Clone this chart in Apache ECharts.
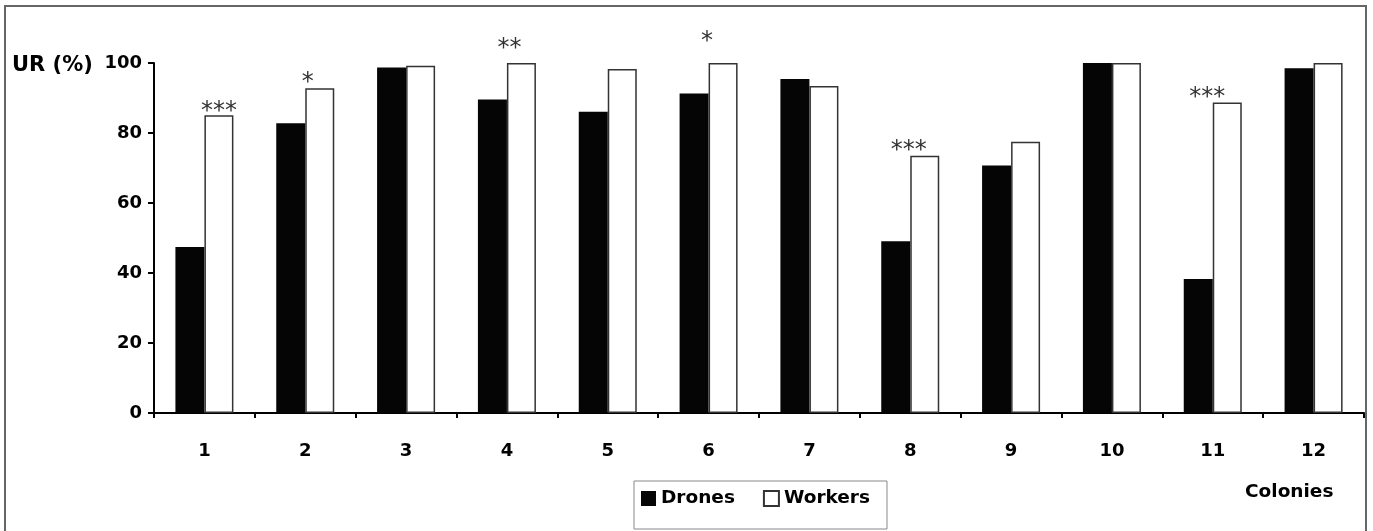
<!DOCTYPE html>
<html>
<head>
<meta charset="utf-8">
<script src="https://cdn.jsdelivr.net/npm/echarts@6/dist/echarts.min.js"></script>
<style>
html,body{margin:0;padding:0;background:#fff;}
#chart{width:1373px;height:531px;}
</style>
</head>
<body>
<div id="chart"></div>
<script>
// ---- data ----
const colonies = ['1','2','3','4','5','6','7','8','9','10','11','12'];
const drones  = [47.4, 82.8, 98.7, 89.6, 86.1, 91.3, 95.4, 49.1, 70.7, 100, 38.3, 98.5];
const workers = [85.1, 92.8, 99.2, 100, 98.3, 100, 93.4, 73.5, 77.5, 100, 88.7, 100];
const significance = ['***','*','','**','','*','','***','','','***',''];
const yTicks = [0, 20, 40, 60, 80, 100];
const yTitle = 'UR (%)';
const xTitle = 'Colonies';

// ---- styling (label placement per colony) ----
const sigOffsets = {0:[0,14], 1:[-12,12], 3:[-12,3], 5:[-16,-4], 7:[-16,12], 10:[-20,12]};

const FONT = 'DejaVu Sans';
const chart = echarts.init(document.getElementById('chart'), null, {renderer:'canvas'});

const workerData = workers.map((v, i) => ({
  value: v,
  label: {
    show: significance[i] !== '',
    formatter: significance[i],
    offset: sigOffsets[i] || [0, 0]
  }
}));

chart.setOption({
  animation: false,
  backgroundColor: '#fff',
  graphic: [
    {
      type: 'rect', silent: true, z: -10,
      shape: {x: 5, y: 6, width: 1361, height: 600},
      style: {fill: 'none', stroke: '#666', lineWidth: 2}
    },
    {
      type: 'text', left: 12, top: 55, silent: true,
      style: {text: yTitle, fontFamily: FONT, fontWeight: 'bold', fontSize: 21, fill: '#000'}
    },
    {
      type: 'text', left: 1245, top: 483, silent: true,
      style: {text: xTitle, fontFamily: FONT, fontWeight: 'bold', fontSize: 18.5, fill: '#000'}
    }
  ],
  grid: {left: 154, right: 9, top: 63, bottom: 118, containLabel: false},
  legend: {
    left: 634, top: 481,
    orient: 'horizontal',
    itemWidth: 15, itemHeight: 15, itemGap: 28,
    padding: [8, 17, 21, 7],
    borderColor: '#888', borderWidth: 1,
    icon: 'rect',
    textStyle: {fontFamily: FONT, fontWeight: 'bold', fontSize: 18.5, color: '#000'},
    data: ['Drones', 'Workers']
  },
  xAxis: {
    type: 'category',
    data: colonies,
    axisLine: {lineStyle: {color: '#000', width: 2}},
    axisTick: {show: true, length: 5, lineStyle: {color: '#000', width: 2}},
    axisLabel: {fontFamily: FONT, fontWeight: 'bold', fontSize: 18, color: '#000', margin: 29},
    splitLine: {show: false}
  },
  yAxis: {
    type: 'value',
    min: yTicks[0], max: yTicks[yTicks.length - 1], interval: 20,
    axisLine: {show: true, lineStyle: {color: '#000', width: 2}},
    axisTick: {show: true, length: 6, lineStyle: {color: '#000', width: 2}},
    axisLabel: {fontFamily: FONT, fontWeight: 'bold', fontSize: 18, color: '#000', margin: 12},
    splitLine: {show: false}
  },
  series: [
    {
      name: 'Drones', type: 'bar', data: drones,
      barWidth: 29, barGap: '0%',
      itemStyle: {color: '#050505', borderColor: '#050505', borderWidth: 0}
    },
    {
      name: 'Workers', type: 'bar', data: workerData,
      barWidth: 29, barGap: '0%',
      itemStyle: {color: '#fff', borderColor: '#333', borderWidth: 1.5},
      label: {position: 'top', distance: 5, fontFamily: FONT, fontSize: 24, color: '#333'}
    }
  ]
});
</script>
</body>
</html>
